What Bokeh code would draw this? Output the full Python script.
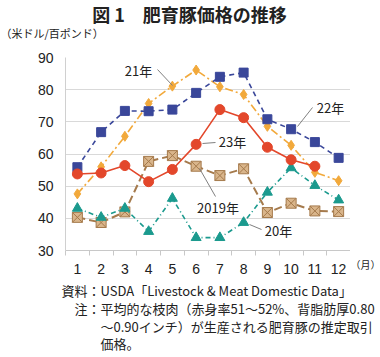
from bokeh.plotting import figure
from bokeh.models import Range1d, FixedTicker, Label
from bokeh.layouts import column, row
from bokeh.embed import file_html
from bokeh.resources import INLINE

# ---- data ----
months = [1, 2, 3, 4, 5, 6, 7, 8, 9, 10, 11, 12]
month_labels = ["1", "2", "3", "4", "5", "6", "7", "8", "9", "10", "11", "12"]
y_ticks = [30, 40, 50, 60, 70, 80, 90]

s2019 = [40.3, 38.7, 42.0, 57.7, 59.5, 56.2, 53.3, 55.4, 41.8, 44.7, 42.3, 42.1]
s2020 = [43.1, 40.3, 43.1, 35.9, 46.2, 34.0, 34.0, 38.7, 48.1, 55.7, 50.2, 45.7]
s2021 = [47.6, 56.0, 65.5, 75.7, 81.1, 86.1, 80.9, 78.5, 68.6, 62.7, 54.3, 51.7]
s2022 = [55.9, 66.8, 73.4, 73.3, 73.8, 79.0, 84.0, 85.3, 70.8, 67.7, 63.7, 58.8]
s2023 = [53.8, 54.1, 56.4, 51.4, 55.2, 63.0, 73.8, 71.3, 62.1, 58.2, 56.2]
months2023 = months[:len(s2023)]

TITLE = "図 1　肥育豚価格の推移"
Y_UNIT = "（米ドル/百ポンド）"
X_UNIT = "（月）"
SOURCE_HEAD, SOURCE = "資料：", "USDA「Livestock & Meat Domestic Data」"
NOTE_HEAD = "注："
NOTE_LINES = ["平均的な枝肉（赤身率51～52%、背脂肪厚0.80",
              "～0.90インチ）が生産される肥育豚の推定取引",
              "価格。"]

W, H = 380, 357
TOP_H = 45            # title strip
MAIN_W, MAIN_H = 350, 233
SIDE_W = W - MAIN_W
BOT_H = H - TOP_H - MAIN_H
L, T, B = 65, 12, 28  # main borders (right border 0)
X0, X1 = 0.5, 12.5
Y0, Y1 = 30, 90

FL, FR = L, MAIN_W
FT, FB = TOP_H + T, TOP_H + MAIN_H - B

JP = "Noto Sans CJK JP"
TICK_FONT = "Liberation Sans"
TXT = "#222222"


def px(xp):
    return X0 + (xp - FL) * (X1 - X0) / (FR - FL)


def py(yp):
    return Y1 - (yp - FT) * (Y1 - Y0) / (FB - FT)


def no_frame_align(f):
    if "frame_align" in f.properties():
        f.frame_align = False


def text_fig(w, h):
    f = figure(width=w, height=h, output_backend="svg", toolbar_location=None,
               x_range=Range1d(0, w), y_range=Range1d(h, 0),
               x_axis_type=None, y_axis_type=None,
               min_border=0, min_border_left=0, min_border_right=0,
               min_border_top=0, min_border_bottom=0)
    f.outline_line_color = None
    f.grid.visible = False
    f.background_fill_color = "white"
    f.border_fill_color = "white"
    no_frame_align(f)
    return f


def put(f, t, x, y, size, align="left", bold=False):
    f.add_layout(Label(x=x, y=y, text=t, text_align=align, text_baseline="middle",
                       text_font=JP, text_font_size=size, text_color=TXT,
                       text_font_style="bold" if bold else "normal"))


# ---- main chart ----
p = figure(width=MAIN_W, height=MAIN_H, output_backend="svg", toolbar_location=None,
           x_range=Range1d(X0, X1), y_range=Range1d(Y0, Y1),
           min_border_left=L, min_border_right=0, min_border_top=T,
           min_border_bottom=B)
p.outline_line_color = None
p.background_fill_color = "white"
p.border_fill_color = "white"
no_frame_align(p)

p.yaxis.ticker = FixedTicker(ticks=y_ticks)
p.yaxis.major_tick_line_color = None
p.yaxis.major_tick_out = 0
p.yaxis.minor_tick_line_color = None
p.yaxis.axis_line_color = "#d0d0d0"
p.yaxis.major_label_text_font = TICK_FONT
p.yaxis.major_label_text_font_size = "14px"
p.yaxis.major_label_text_color = TXT
p.yaxis.major_label_standoff = 12

p.xaxis.ticker = FixedTicker(ticks=months, minor_ticks=[m - 0.5 for m in months] + [12.5])
p.xaxis.major_label_overrides = {m: lab for m, lab in zip(months, month_labels)}
p.xaxis.major_tick_line_color = None
p.xaxis.major_tick_out = 0
p.xaxis.major_tick_in = 0
p.xaxis.minor_tick_line_color = "#c8c8c8"
p.xaxis.minor_tick_out = 5
p.xaxis.minor_tick_in = 0
p.xaxis.axis_line_color = "#c8c8c8"
p.xaxis.major_label_text_font = TICK_FONT
p.xaxis.major_label_text_font_size = "14px"
p.xaxis.major_label_text_color = TXT
p.xaxis.major_label_standoff = 8

p.xgrid.grid_line_color = None
p.ygrid.grid_line_color = "#d9d9d9"

C19L, C19F = "#a57a4c", "#d9b58b"
C20 = "#1b9a8e"
C21 = "#f2a93b"
C22 = "#3a479a"
C23 = "#e3472b"

p.line(months, s2019, line_color=C19L, line_width=2, line_dash="8 4")
p.scatter(months, s2019, marker="square_x", size=10, fill_color=C19F, line_color=C19L, line_width=1)

p.line(months, s2020, line_color=C20, line_width=1.6, line_dash="5 3 1 3")
p.scatter(months, s2020, marker="triangle", size=10, fill_color=C20, line_color=C20)

p.line(months, s2021, line_color=C21, line_width=1.6, line_dash="8 3 2 3")
p.scatter(months, s2021, marker="diamond", size=10, fill_color=C21, line_color=C21)

p.line(months, s2022, line_color=C22, line_width=1.6, line_dash="5 4")
p.scatter(months, s2022, marker="square", size=9, fill_color=C22, line_color=C22)

p.line(months2023, s2023, line_color=C23, line_width=1.6)
p.scatter(months2023, s2023, marker="circle", size=10, fill_color=C23, line_color=C23)

# series labels with leader lines (page pixel positions converted to data)
series_labels = [
    ("21年", 138, 70, (157, 69), (172, 85)),
    ("22年", 330, 107, (312, 107), (297, 126)),
    ("23年", 232, 141, (215, 142), (202, 143)),
    ("2019年", 217.5, 207, (215, 196), (199, 168)),
    ("20年", 278, 230, (261, 229), (249, 224)),
]
for txt, tx, ty, a, b in series_labels:
    p.segment(x0=[px(a[0])], y0=[py(a[1])], x1=[px(b[0])], y1=[py(b[1])],
              line_color="#808080", line_width=1)
    p.add_layout(Label(x=px(tx), y=py(ty), text=txt, text_align="center",
                       text_baseline="middle", text_font=JP,
                       text_font_size="13px", text_color=TXT))

# ---- text strips ----
top = text_fig(W, TOP_H)
put(top, TITLE, 189, 13, "18px", align="center", bold=True)
put(top, Y_UNIT, 0, 32, "11px")

side = text_fig(SIDE_W, MAIN_H)
put(side, X_UNIT, 0, 264 - TOP_H, "10px")

bot = text_fig(W, BOT_H)
y0 = TOP_H + MAIN_H
put(bot, SOURCE_HEAD, 100, 290 - y0, "13px", align="right")
put(bot, SOURCE, 100, 290 - y0, "13px")
put(bot, NOTE_HEAD, 100, 308 - y0, "13px", align="right")
for line, yy in zip(NOTE_LINES, [308, 325.5, 343]):
    put(bot, line, 100, yy - y0, "13px")

layout = column(top, row(p, side, spacing=0), bot, spacing=0)
open("out.html", "w").write(file_html(layout, INLINE))
